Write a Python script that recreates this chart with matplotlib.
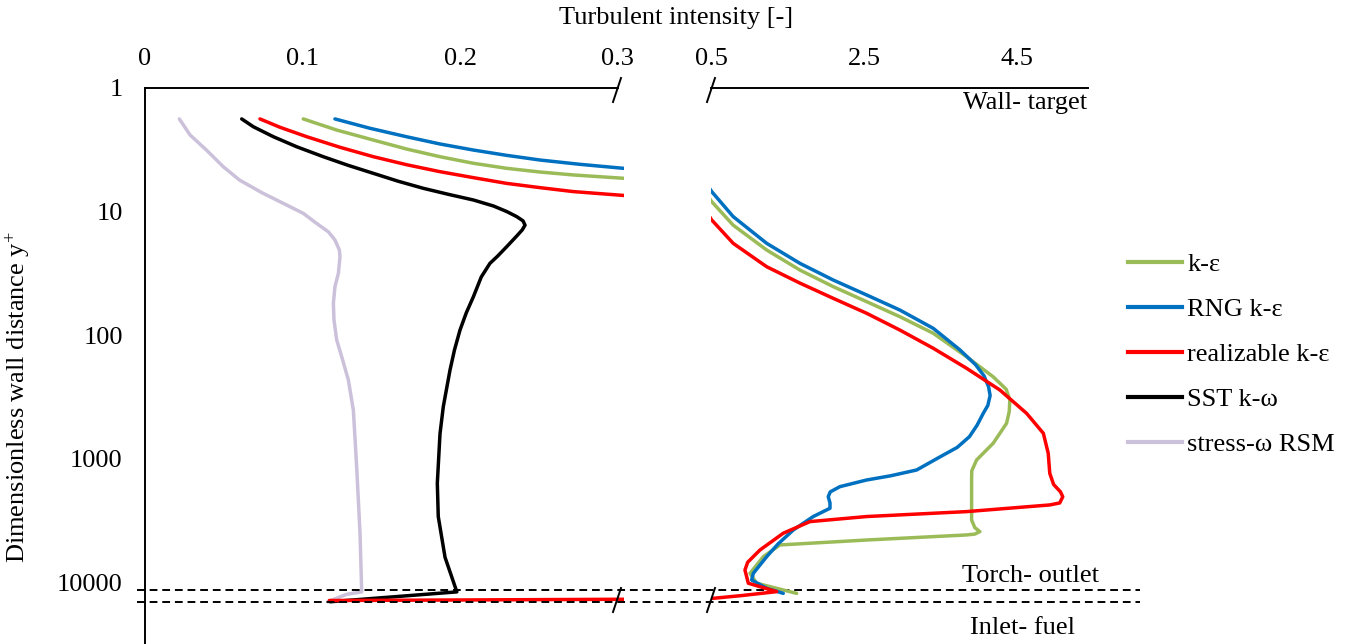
import matplotlib.pyplot as plt
from matplotlib.lines import Line2D
from matplotlib.ticker import NullLocator

plt.rcParams['font.family'] = 'Liberation Serif'
plt.rcParams['mathtext.fontset'] = 'custom'
plt.rcParams['mathtext.rm'] = 'Liberation Serif'
plt.rcParams['mathtext.it'] = 'Liberation Serif:italic'
plt.rcParams['font.size'] = 19

# data (x = turbulent intensity, y = y+)
ke_x = [0.1005, 0.1217, 0.145, 0.1661, 0.1873, 0.2085, 0.2296, 0.2508, 0.272, 0.3037, 0.509, 0.79,
        1.228, 1.663, 2.099, 2.535, 2.97, 3.406, 3.842, 4.19, 4.36, 4.408, 4.40, 4.365, 4.19,
        3.973, 3.91, 3.908, 3.908, 3.95, 4.016, 3.95, 3.842, 2.535, 1.402, 1.184, 1.01, 1.097, 1.62]
ke_y = [1.78, 2.19, 2.64, 3.12, 3.60, 4.07, 4.47, 4.79, 5.06, 5.38, 8.32, 12.9,
        20.5, 29.8, 40.6, 53.7, 71.1, 96.8, 150, 218, 275, 336, 417, 519, 753,
        1028, 1259, 1493, 3148, 3631, 3908, 4093, 4159, 4571, 5012, 6237, 8511, 10233, 12359]

rng_x = [0.1206, 0.1429, 0.166, 0.1873, 0.2085, 0.2296, 0.2508, 0.2762, 0.3037, 0.509, 0.79, 1.228,
         1.663, 2.099, 2.535, 2.97, 3.406, 3.755, 3.96, 4.07, 4.13, 4.15, 4.12, 4.06, 3.98, 3.88,
         3.72, 3.5, 3.189, 2.85, 2.535, 2.186, 2.06, 2.033, 2.056, 2.056, 1.837, 1.576, 1.38,
         1.228, 1.053, 1.032, 1.228, 1.445]
rng_y = [1.78, 2.12, 2.48, 2.84, 3.18, 3.51, 3.83, 4.15, 4.47, 6.90, 11.0, 18.1,
         26.3, 35.9, 47.4, 62.8, 88.3, 132, 174, 214, 263, 309, 372, 431, 537, 665,
         813, 966, 1239, 1380, 1493, 1690, 1862, 2037, 2291, 2529, 2951, 3793, 4898,
         6237, 8511, 9638, 11246, 12359]

real_x = [0.073, 0.0857, 0.1027, 0.1238, 0.145, 0.1661, 0.1873, 0.2085, 0.2296, 0.2508, 0.272,
          0.3037, 0.509, 0.79, 1.228, 1.663, 2.099, 2.535, 2.97, 3.406, 3.842, 4.278, 4.627,
          4.846, 4.91, 4.93, 4.98, 5.07, 5.10, 5.06, 4.93, 3.842, 2.535, 1.794, 1.445, 1.14,
          0.98, 0.944, 0.988, 1.359, 0.9, 0.53, 0.3, 0.117]
real_y = [1.78, 2.08, 2.48, 3.02, 3.60, 4.18, 4.76, 5.32, 5.92, 6.41, 6.90,
          7.41, 11.7, 18.1, 28.0, 38.0, 50.5, 66.7, 91.2, 128, 186, 279, 431,
          625, 908, 1318, 1622, 1862, 2042, 2291, 2377, 2692, 2951, 3243, 4027, 5508,
          6918, 8000, 10233, 11967, 12882, 13552, 13804, 14125]

sst_x = [0.0614, 0.0688, 0.0815, 0.0963, 0.1132, 0.129, 0.145, 0.1608, 0.1767, 0.1926, 0.2085,
         0.2212, 0.2296, 0.236, 0.2400, 0.2413, 0.2395, 0.236, 0.2296, 0.2240, 0.219, 0.2135,
         0.2085, 0.2040, 0.200, 0.1965, 0.1937, 0.1894, 0.1873, 0.1856, 0.1862, 0.1905, 0.198,
         0.1175]
sst_y = [1.78, 2.06, 2.48, 2.99, 3.60, 4.23, 4.91, 5.69, 6.49, 7.26, 8.07,
         9.02, 10.0, 11.0, 11.9, 12.9, 14.1, 15.8, 19.3, 22.9, 26.3, 33.9,
         49.0, 66.1, 91.2, 132, 191, 380, 631, 1585, 2951, 6310, 12023,
         14454]

rsm_x = [0.0218, 0.0286, 0.039, 0.0497, 0.060, 0.0741, 0.0878, 0.1005, 0.109, 0.1164, 0.1206,
         0.1234, 0.1238, 0.1228, 0.1206, 0.1196, 0.12, 0.1217, 0.1249, 0.1291, 0.1323, 0.1344,
         0.1365, 0.1376, 0.128, 0.116]
rsm_y = [1.78, 2.40, 3.18, 4.34, 5.56, 7.03, 8.59, 10.35, 12.5, 14.6, 17.0,
         20.5, 23.2, 31.6, 40.6, 55.5, 75.7, 109.6, 150, 231, 407, 1175,
         3981, 12023, 12589, 14454]

series = [
    ('k-ε', ke_x, ke_y, '#9BBB59', 2),
    ('RNG k-ε', rng_x, rng_y, '#0070C0', 3),
    ('realizable k-ε', real_x, real_y, '#FF0000', 5),
    ('SST k-ω', sst_x, sst_y, '#000000', 4),
    ('stress-ω RSM', rsm_x, rsm_y, '#CCC1DA', 1),
]

zone_y = [11600, 14500]   # torch outlet / inlet fuel boundaries

W, H = 1346, 644
fig = plt.figure(figsize=(W / 100, H / 100), dpi=100)
ax1 = fig.add_axes([145 / W, 0, 478.8 / W, 556 / H])
ax2 = fig.add_axes([711 / W, 0, 377 / W, 556 / H])

handles = []
for name, xs, ys, col, z in series:
    for ax in (ax1, ax2):
        ax.plot(xs, ys, color=col, lw=2.5, zorder=z,
                solid_joinstyle='round', solid_capstyle='round')
    handles.append(Line2D([], [], color=col, lw=3))

for ax in (ax1, ax2):
    ax.set_yscale('log')
    ax.set_ylim(31770, 1)
    ax.yaxis.set_minor_locator(NullLocator())
    ax.xaxis.tick_top()
    ax.tick_params(axis='x', length=0, pad=13)
    ax.spines['right'].set_visible(False)
    ax.spines['bottom'].set_visible(False)
    ax.spines['top'].set_linewidth(1.4)
    ax.set_facecolor('none')

ax1.set_xlim(0, 0.304)
ax1.spines['top'].set_bounds(0, 0.3)
ax1.spines['left'].set_linewidth(1.4)
ax1.set_xticks([0, 0.1, 0.2, 0.3], ['0', '0.1', '0.2', '0.3'])
ax1.set_yticks([1, 10, 100, 1000, 10000], ['1', '10', '100', '1000', '10000'])
ax1.tick_params(axis='y', length=0, pad=16)

ax2.set_xlim(0.5, 5.43)
ax2.set_xticks([0.5, 2.5, 4.5], ['0.5', '2.5', '4.5'])
ax2.spines['left'].set_visible(False)
ax2.set_yticks([])

# zone boundaries
for yv in zone_y:
    ax1.plot([-8 / 478.8, 995 / 478.8], [yv, yv], transform=ax1.get_yaxis_transform(),
             color='black', lw=1.4, ls=(0, (4, 2.5)), clip_on=False, zorder=6)

# axis break marks
def brk(px, py):
    fig.add_artist(Line2D([(px - 4) / W, (px + 4) / W], [1 - (py + 12) / H, 1 - (py - 12) / H],
                          transform=fig.transFigure, color='black', lw=1.4))

for px in (617, 711):
    brk(px, 90)
    brk(px, 600)

fig.text(676 / W, 1 - 18 / H, 'Turbulent intensity [-]', ha='center', va='center')
fig.text(18 / W, 1 - 397 / H, 'Dimensionless wall distance y$^{+}$', rotation=90,
         ha='center', va='center')
fig.text(1087 / W, 1 - 103 / H, 'Wall- target', ha='right', va='center')
fig.text(1030 / W, 1 - 576 / H, 'Torch- outlet', ha='center', va='center')
fig.text(1022 / W, 1 - 628 / H, 'Inlet- fuel', ha='center', va='center')

fig.legend(handles, [s[0] for s in series], loc='center left',
           bbox_to_anchor=(1128 / W, 1 - 354.5 / H), frameon=False,
           handlelength=2.05, handletextpad=0.2, labelspacing=0.82,
           borderpad=0, borderaxespad=0)

fig.savefig('out.png', dpi=100)
